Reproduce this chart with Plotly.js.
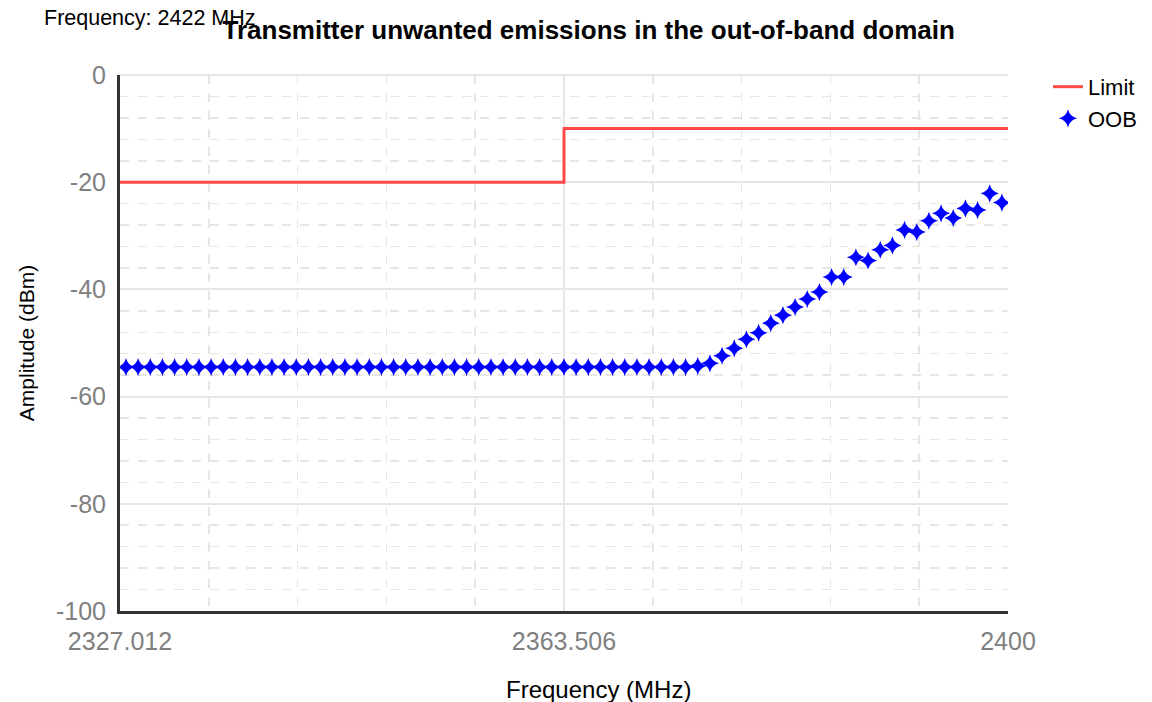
<!DOCTYPE html>
<html>
<head>
<meta charset="utf-8">
<script src="https://cdn.plot.ly/plotly-3.0.1.min.js"></script>
<style>html,body{margin:0;padding:0;background:#fff;}#chart{width:1152px;height:702px;}</style>
</head>
<body>
<div id="chart"></div>
<script>
// Limit line (step)
const limitFreq = [2327.012, 2363.506, 2363.506, 2400];
const limitAmp = [-20, -20, -10, -10];

// OOB measurement points (1 MHz spacing)
const oobFreq = [
  2327.5, 2328.5, 2329.5, 2330.5, 2331.5, 2332.5, 2333.5, 2334.5, 2335.5, 2336.5,
  2337.5, 2338.5, 2339.5, 2340.5, 2341.5, 2342.5, 2343.5, 2344.5, 2345.5, 2346.5,
  2347.5, 2348.5, 2349.5, 2350.5, 2351.5, 2352.5, 2353.5, 2354.5, 2355.5, 2356.5,
  2357.5, 2358.5, 2359.5, 2360.5, 2361.5, 2362.5, 2363.5, 2364.5, 2365.5, 2366.5,
  2367.5, 2368.5, 2369.5, 2370.5, 2371.5, 2372.5, 2373.5, 2374.5, 2375.5, 2376.5,
  2377.5, 2378.5, 2379.5, 2380.5, 2381.5, 2382.5, 2383.5, 2384.5, 2385.5, 2386.5,
  2387.5, 2388.5, 2389.5, 2390.5, 2391.5, 2392.5, 2393.5, 2394.5, 2395.5, 2396.5,
  2397.5, 2398.5, 2399.5
];
const oobAmp = [
  -54.5, -54.5, -54.5, -54.5, -54.5, -54.5, -54.5, -54.5, -54.5, -54.5,
  -54.5, -54.5, -54.5, -54.5, -54.5, -54.5, -54.5, -54.5, -54.5, -54.5,
  -54.5, -54.5, -54.5, -54.5, -54.5, -54.5, -54.5, -54.5, -54.5, -54.5,
  -54.5, -54.5, -54.5, -54.5, -54.5, -54.5, -54.5, -54.5, -54.5, -54.5,
  -54.5, -54.5, -54.5, -54.5, -54.5, -54.5, -54.5, -54.3, -53.8, -52.4,
  -51.0, -49.3, -48.1, -46.3, -44.8, -43.3, -41.8, -40.5, -37.7, -37.7,
  -34.0, -34.6, -32.6, -31.8, -28.9, -29.3, -27.2, -25.8, -26.7, -24.9,
  -25.2, -22.1, -23.8
];

const xTickVals = [2327.012, 2363.506, 2400];
const xTickText = ['2327.012', '2363.506', '2400'];
const yTickVals = [-100, -80, -60, -40, -20, 0];
const yTickText = ['-100', '-80', '-60', '-40', '-20', '0'];

const FONT = 'Liberation Sans, Arial, sans-serif';

const traces = [
  {
    x: limitFreq, y: limitAmp, name: 'Limit', type: 'scatter', mode: 'lines',
    line: {color: '#ff4848', width: 3}
  },
  {
    x: oobFreq, y: oobAmp, name: 'OOB', type: 'scatter', mode: 'markers',
    marker: {symbol: 'star-diamond', size: 13, color: '#0000ff', line: {width: 0}}
  }
];

const layout = {
  width: 1152, height: 702,
  paper_bgcolor: '#ffffff', plot_bgcolor: '#ffffff',
  margin: {l: 120, r: 144, t: 75, b: 91, autoexpand: false},
  font: {family: FONT, color: '#000'},
  title: {
    text: '<b>Transmitter unwanted emissions in the out-of-band domain</b>',
    font: {family: FONT, size: 26, color: '#000'},
    xref: 'container', yref: 'container', x: 0.511, xanchor: 'center', y: 0.957, yanchor: 'middle'
  },
  showlegend: true,
  legend: {
    x: 1.045, xanchor: 'left', y: 1.017, yanchor: 'top',
    font: {family: FONT, size: 22, color: '#000'},
    bgcolor: 'rgba(0,0,0,0)', tracegroupgap: 0
  },
  xaxis: {
    range: [2327.012, 2400], autorange: false,
    tickmode: 'array', tickvals: xTickVals, ticktext: xTickText,
    tickfont: {family: FONT, size: 25, color: '#808080'},
    ticks: '', ticklabelstandoff: 6,
    showgrid: true, gridcolor: '#e6e6e6', gridwidth: 2,
    minor: {tick0: 2327.012, dtick: 7.2988, showgrid: true, gridcolor: '#e6e6e6', griddash: 'dash', gridwidth: 1.5, ticks: ''},
    showline: true, linecolor: '#333333', linewidth: 3,
    zeroline: false
  },
  yaxis: {
    range: [-100, 0], autorange: false,
    tickmode: 'array', tickvals: yTickVals, ticktext: yTickText,
    tickfont: {family: FONT, size: 25, color: '#808080'},
    ticks: '', ticklabelstandoff: 6,
    showgrid: true, gridcolor: '#e6e6e6', gridwidth: 2,
    minor: {tick0: 0, dtick: 4, showgrid: true, gridcolor: '#e6e6e6', griddash: 'dash', gridwidth: 1.5, ticks: ''},
    showline: true, linecolor: '#333333', linewidth: 3,
    zeroline: true, zerolinecolor: '#e6e6e6', zerolinewidth: 2,
    title: {text: 'Amplitude (dBm)', font: {family: FONT, size: 21, color: '#000'}, standoff: 16}
  },
  annotations: [
    {
      text: 'Frequency: 2422 MHz', xref: 'paper', yref: 'paper',
      x: -0.088, xanchor: 'left', y: 1.106, yanchor: 'middle', showarrow: false,
      font: {family: FONT, size: 21.5, color: '#000'}
    },
    {
      text: 'Frequency (MHz)', xref: 'paper', yref: 'paper',
      x: 0.539, xanchor: 'center', y: -0.147, yanchor: 'middle', showarrow: false,
      font: {family: FONT, size: 24, color: '#000'}
    }
  ]
};

Plotly.newPlot('chart', traces, layout, {displayModeBar: false, staticPlot: true});
</script>
</body>
</html>
